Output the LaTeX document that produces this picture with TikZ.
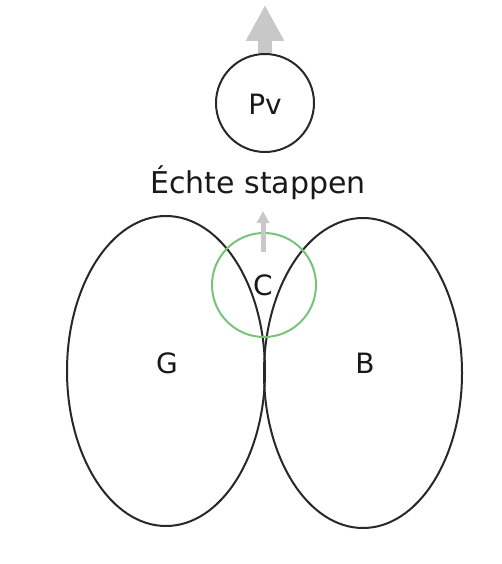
\documentclass[tikz,border=0pt]{standalone}
\usepackage{fontspec}
\setmainfont{DejaVu Sans}
\usetikzlibrary{shapes.geometric,arrows.meta}
\definecolor{linegray}{RGB}{40,40,40}
\definecolor{arrowgray}{RGB}{200,200,200}
\definecolor{cgreen}{RGB}{120,195,120}
\tikzset{
  blob/.style={ellipse,draw=linegray,line width=2pt,inner sep=0pt,minimum width=198pt,minimum height=310pt},
  ring/.style={circle,draw=linegray,line width=2pt,inner sep=0pt,minimum size=98pt},
  greenring/.style={circle,draw=cgreen,line width=2pt,inner sep=0pt,minimum size=104pt},
  lab/.style={font=\fontsize{28}{30}\selectfont,text=black!90},
  bigarrow/.style={draw=arrowgray,line width=14pt,-{Triangle[width=36pt,length=36pt]}},
  smallarrow/.style={draw=arrowgray,line width=5pt,-{Triangle[width=12pt,length=12pt]}}
}
\begin{document}
\begin{tikzpicture}[x=1pt,y=-1pt]
\useasboundingbox (0,0) rectangle (502,564);
\node[blob] (G) at (166,371) {};
\node[blob] (B) at (363,373) {};
\node[greenring] (C) at (264,285) {};
\node[ring] (Pv) at (265,103) {};
\coordinate (top) at (265,5);
\coordinate (cbot) at (263,252);
\coordinate (ctop) at (263,211);
\draw[bigarrow] (Pv.north) -- (top);
\draw[smallarrow] (cbot) -- (ctop);
\node[lab] (Pvl) at (265,104) {Pv};
\node[lab] (Cl) at (263,285) {C};
\node[lab] (Gl) at (167,363) {G};
\node[lab] (Bl) at (365,363) {B};
\node[font=\fontsize{30}{34}\selectfont,text=black!90] (title) at (258,183) {Échte stappen};
\end{tikzpicture}
\end{document}
